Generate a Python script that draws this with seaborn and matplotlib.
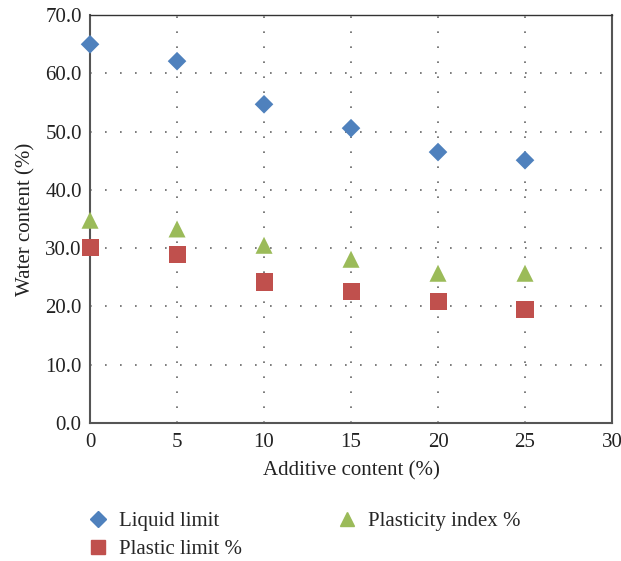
import matplotlib
matplotlib.use("Agg")
import matplotlib.pyplot as plt
import seaborn as sns
import pandas as pd
from matplotlib.lines import Line2D

additive = [0, 5, 10, 15, 20, 25]
liquid_limit = [65.0, 62.1, 54.7, 50.6, 46.5, 45.1]
plastic_limit = [30.2, 29.0, 24.2, 22.5, 20.8, 19.4]
plasticity_index = [34.8, 33.3, 30.5, 28.1, 25.7, 25.7]

series_names = ["Liquid limit", "Plastic limit %", "Plasticity index %"]
x_ticks = [0, 5, 10, 15, 20, 25, 30]
y_ticks = [0, 10, 20, 30, 40, 50, 60, 70]

sns.set_style("white")
plt.rcParams["font.family"] = ["Liberation Serif", "DejaVu Serif"]

df = pd.DataFrame({
    "additive": additive * 3,
    "value": liquid_limit + plastic_limit + plasticity_index,
    "series": [series_names[0]] * 6 + [series_names[1]] * 6 + [series_names[2]] * 6,
})

colors = {series_names[0]: "#4F81BD", series_names[1]: "#C0504D", series_names[2]: "#9BBB59"}
markers = {series_names[0]: "D", series_names[1]: "s", series_names[2]: "^"}
sizes = {series_names[0]: 90, series_names[1]: 150, series_names[2]: 150}

fig = plt.figure(figsize=(6.21, 5.61), dpi=100)
ax = fig.add_axes([0.145, 0.246, 0.8405, 0.727])

for name in series_names:
    sub = df[df["series"] == name]
    sns.scatterplot(data=sub, x="additive", y="value", ax=ax, color=colors[name],
                    marker=markers[name], s=sizes[name], edgecolor="none",
                    zorder=3, clip_on=False, legend=False)

ax.set_xlim(0, 30)
ax.set_ylim(0, 70)
ax.set_xticks(x_ticks)
ax.set_yticks(y_ticks)
ax.set_yticklabels([f"{v:.1f}" for v in y_ticks])
ax.tick_params(axis="both", labelsize=15, length=0, colors="#222222")
ax.tick_params(axis="x", pad=7)
ax.tick_params(axis="y", pad=6)
ax.set_xlabel("Additive content (%)", fontsize=15, color="#222222", labelpad=7)
ax.set_ylabel("Water content (%)", fontsize=15, color="#222222", labelpad=7)

ax.grid(True, color="#666666", linestyle=(0, (1, 8)), linewidth=1.2)
ax.set_axisbelow(True)
for side in ["left", "bottom"]:
    ax.spines[side].set_color("#555555")
    ax.spines[side].set_linewidth(1.5)
ax.spines["top"].set_color("#333333")
ax.spines["top"].set_linewidth(1.0)
ax.spines["right"].set_color("#555555")
ax.spines["right"].set_linewidth(1.5)

handles = [Line2D([], [], linestyle="none", marker=markers[n], color=colors[n],
                  markersize=10 if markers[n] != "D" else 8) for n in series_names]
fig.legend(handles, series_names, ncol=2, loc="upper left",
           bbox_to_anchor=(0.141, 0.088), frameon=False, fontsize=15,
           handletextpad=0.5, columnspacing=4.55, labelspacing=0.4,
           handlelength=1.0, borderaxespad=0, borderpad=0)

fig.savefig("out.png", dpi=100)
